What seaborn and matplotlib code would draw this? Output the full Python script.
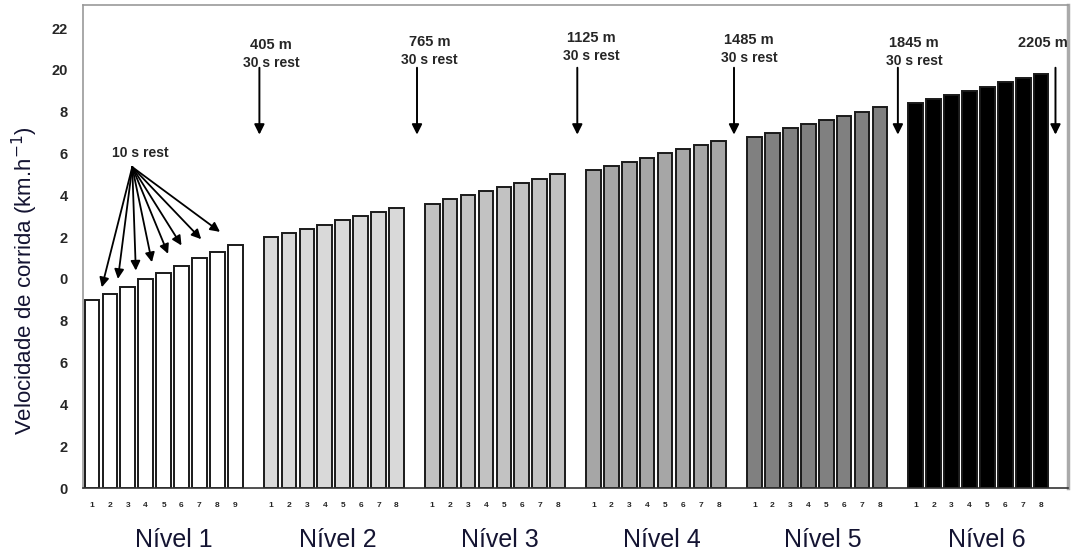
import matplotlib
matplotlib.use('Agg')
import matplotlib.pyplot as plt
import matplotlib.transforms as mtransforms
import pandas as pd
import seaborn as sns

# values (km/h per stage)
levels = ['Nível 1', 'Nível 2', 'Nível 3', 'Nível 4', 'Nível 5', 'Nível 6']
speed_n1 = [9.0, 9.3, 9.6, 10.0, 10.3, 10.6, 11.0, 11.3, 11.6]
speed_n2 = [12.0, 12.2, 12.4, 12.6, 12.8, 13.0, 13.2, 13.4]
speed_n3 = [13.6, 13.8, 14.0, 14.2, 14.4, 14.6, 14.8, 15.0]
speed_n4 = [15.2, 15.4, 15.6, 15.8, 16.0, 16.2, 16.4, 16.6]
speed_n5 = [16.8, 17.0, 17.2, 17.4, 17.6, 17.8, 18.0, 18.2]
speed_n6 = [18.4, 18.6, 18.8, 19.0, 19.2, 19.4, 19.6, 19.8]
level_colors = ['#ffffff', '#d9d9d9', '#c2c2c2', '#a6a6a6', '#808080', '#000000']

rest_distance = ['405 m', '765 m', '1125 m', '1485 m', '1845 m', '2205 m']
rest_text = ['30 s rest', '30 s rest', '30 s rest', '30 s rest', '30 s rest', '']
y_ticks = [0, 2, 4, 6, 8, 10, 12, 14, 16, 18, 20, 22]
y_tick_labels = ['0', '2', '4', '6', '8', '0', '2', '4', '6', '8', '20', '22']

all_speeds = [speed_n1, speed_n2, speed_n3, speed_n4, speed_n5, speed_n6]

# one slot per stage, one empty slot after each level (the rest)
rows = []
gap_slots = []
pos = 0
for lvl, speeds in zip(levels, all_speeds):
    for i, v in enumerate(speeds):
        rows.append({'slot': pos, 'speed': v, 'level': lvl, 'stage': str(i + 1)})
        pos += 1
    gap_slots.append(pos)
    pos += 1
df = pd.DataFrame(rows)

sns.set_style('white')
plt.rcParams['font.family'] = ['Liberation Sans', 'DejaVu Sans']

fig = plt.figure(figsize=(10.75, 5.56), dpi=100)
ax = fig.add_axes([0.0772, 0.1223, 0.9163, 0.8687])

sns.barplot(data=df, x='slot', y='speed', hue='level', palette=level_colors,
            native_scale=True, width=0.82, dodge=False, legend=False,
            edgecolor='#1a1a1a', linewidth=1.4, ax=ax)

ax.set_xlim(-0.5, pos - 0.5)
ax.set_ylim(0, 23.1)

ax.set_yticks(y_ticks)
ax.set_yticklabels(y_tick_labels, fontsize=10.5, fontweight='bold')
ax.tick_params(axis='y', direction='out', length=5, width=1, color='#888888', pad=6)

ax.set_xticks(df['slot'])
ax.set_xticklabels(df['stage'], fontsize=6, fontweight='bold')
ax.tick_params(axis='x', which='major', length=0, pad=10)
ax.set_xticks([s - 0.5 for s in range(pos + 1)], minor=True)
ax.tick_params(axis='x', which='minor', direction='inout', length=5, width=0.8, color='#555555')
ax.set_xlabel('')
ax.set_ylabel('Velocidade de corrida (km.h$^{-1}$)', fontsize=16, color='#141432')
ax.yaxis.set_label_coords(-0.044, 0.43)

for side in ['top', 'left']:
    ax.spines[side].set_color('#999999')
    ax.spines[side].set_linewidth(1.2)
ax.spines['right'].set_color('#aaaaaa')
ax.spines['right'].set_linewidth(2.5)
ax.spines['bottom'].set_color('#333333')
ax.spines['bottom'].set_linewidth(1.2)

# level names under each group
trans = mtransforms.blended_transform_factory(ax.transData, ax.transAxes)
name_dx = [0.55, 0.25, 0.3, 0.3, 0.3, 0.45]
for lvl, dx in zip(levels, name_dx):
    centre = df.loc[df['level'] == lvl, 'slot'].mean()
    ax.text(centre + dx, -0.108, lvl, transform=trans, ha='center', va='center',
            fontsize=18, color='#141432')

# 10 s rest arrows within level 1
tip_x = [0.55, 1.45, 2.45, 3.35, 4.25, 5.0, 6.1, 7.15]
tip_y = [9.6, 10.0, 10.4, 10.8, 11.2, 11.6, 11.9, 12.25]
ax.text(2.7, 16.0, '10 s rest', ha='center', va='center', fontsize=10, fontweight='bold')
for tx, ty in zip(tip_x, tip_y):
    ax.annotate('', xy=(tx, ty), xytext=(2.25, 15.35),
                arrowprops=dict(arrowstyle='-|>', color='black', lw=1.3,
                                mutation_scale=14, shrinkA=0, shrinkB=0))

# 30 s rest arrows between levels
arrow_dx = [0.35, 0.15, 0.1, -0.15, 0.0, -0.2]
text_dx = [1.0, 0.85, 0.9, 0.7, 0.9, -0.9]
dist_y = [21.2, 21.33, 21.53, 21.44, 21.3, 21.3]
for g, dist, rest, adx, tdx, dy in zip(gap_slots, rest_distance, rest_text, arrow_dx, text_dx, dist_y):
    ax.annotate('', xy=(g + adx, 16.9), xytext=(g + adx, 20.1),
                arrowprops=dict(arrowstyle='-|>', color='black', lw=1.4,
                                mutation_scale=15, shrinkA=0, shrinkB=0))
    ax.text(g + tdx, dy, dist, ha='center', va='center', fontsize=10.5, fontweight='bold')
    if rest:
        ax.text(g + tdx, dy - 0.88, rest, ha='center', va='center', fontsize=10, fontweight='bold')

fig.savefig('out.png', dpi=100, facecolor='white')
